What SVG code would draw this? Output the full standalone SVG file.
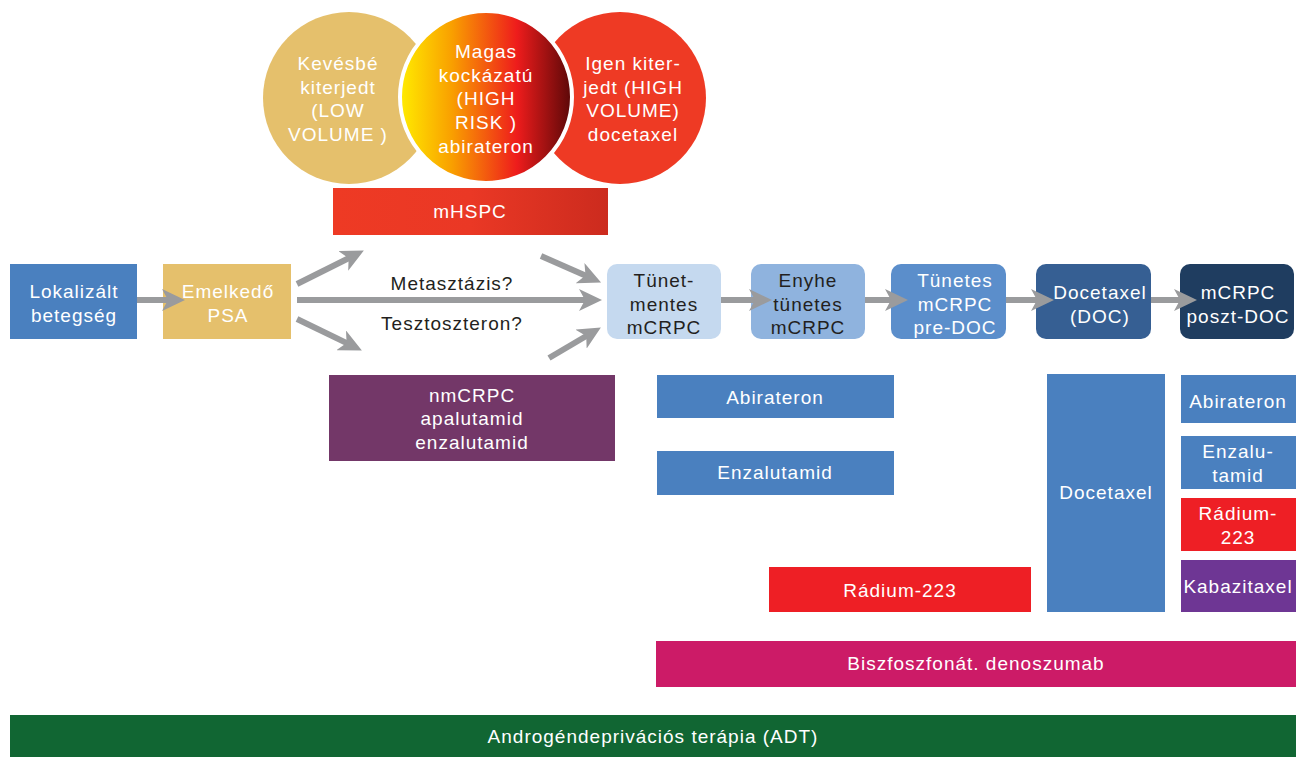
<svg xmlns="http://www.w3.org/2000/svg" width="1296" height="757" viewBox="0 0 1296 757">
<defs>
<linearGradient id="gRisk" x1="0" y1="0" x2="1" y2="0">
<stop offset="0" stop-color="#ffec00"/>
<stop offset="0.3" stop-color="#f9a000"/>
<stop offset="0.68" stop-color="#ee1c1c"/>
<stop offset="1" stop-color="#5a0808"/>
</linearGradient>
<linearGradient id="gHspc" x1="0" y1="0" x2="1" y2="0">
<stop offset="0" stop-color="#ee3a24"/>
<stop offset="0.5" stop-color="#ea3825"/>
<stop offset="1" stop-color="#cc2b1e"/>
</linearGradient>
<marker id="ah" markerUnits="userSpaceOnUse" markerWidth="24" markerHeight="22" viewBox="0 0 24 22" refX="12" refY="11" orient="auto">
<path d="M0,0 L23,11 L0,22 L6,11 Z" fill="#9a9b9d"/>
</marker>
<style>
text{font-family:"Liberation Sans",Arial,sans-serif;font-size:19px;letter-spacing:1px;text-anchor:middle;fill:#ffffff}
.dk{fill:#231f20}
.cn{stroke:#9a9b9d;stroke-width:6;fill:none;marker-end:url(#ah)}
</style>
</defs>

<g id="circle-low">
<circle cx="349" cy="98" r="86" fill="#e5c06c"/>
<text x="338" y="70">Kevésbé</text>
<text x="338" y="94">kiterjedt</text>
<text x="338" y="117">(LOW</text>
<text x="338" y="141">VOLUME )</text>
</g>
<g id="circle-high-volume">
<circle cx="620" cy="98" r="86" fill="#ee3a24"/>
<text x="633" y="70">Igen kiter-</text>
<text x="633" y="94">jedt (HIGH</text>
<text x="633" y="117">VOLUME)</text>
<text x="633" y="141">docetaxel</text>
</g>
<g id="circle-high-risk">
<circle cx="486" cy="97" r="86" fill="url(#gRisk)" stroke="#ffffff" stroke-width="4"/>
<text x="486" y="58">Magas</text>
<text x="486" y="82">kockázatú</text>
<text x="486" y="105">(HIGH</text>
<text x="486" y="129">RISK )</text>
<text x="486" y="153">abirateron</text>
</g>
<g id="mhspc">
<rect x="333" y="188" width="275" height="47" fill="url(#gHspc)"/>
<text x="470" y="218">mHSPC</text>
</g>

<g id="lokalizalt">
<rect x="10" y="264" width="127" height="75" fill="#4a80bf"/>
<text x="74" y="298">Lokalizált</text>
<text x="74" y="322">betegség</text>
</g>
<g id="emelkedo">
<rect x="163" y="264" width="128" height="75" fill="#e5c06c"/>
<text x="228" y="298">Emelkedő</text>
<text x="228" y="322">PSA</text>
</g>
<g id="nmcrpc">
<rect x="329" y="375" width="286" height="86" fill="#733768"/>
<text x="472" y="402">nmCRPC</text>
<text x="472" y="425">apalutamid</text>
<text x="472" y="449">enzalutamid</text>
</g>

<g id="tunetmentes">
<rect x="607" y="264" width="114" height="75" rx="10" fill="#c5d9ef"/>
<text class="dk" x="664" y="287">Tünet-</text>
<text class="dk" x="664" y="311">mentes</text>
<text class="dk" x="664" y="334">mCRPC</text>
</g>
<g id="enyhe">
<rect x="751" y="264" width="114" height="75" rx="10" fill="#8fb3de"/>
<text class="dk" x="808" y="287">Enyhe</text>
<text class="dk" x="808" y="311">tünetes</text>
<text class="dk" x="808" y="334">mCRPC</text>
</g>
<g id="tunetes">
<rect x="891" y="264" width="115" height="75" rx="10" fill="#5b8ecb"/>
<text x="955" y="287">Tünetes</text>
<text x="955" y="311">mCRPC</text>
<text x="955" y="334">pre-DOC</text>
</g>
<g id="docetaxel-doc">
<rect x="1036" y="264" width="115" height="75" rx="10" fill="#365f93"/>
<text x="1100" y="299">Docetaxel</text>
<text x="1100" y="323">(DOC)</text>
</g>
<g id="poszt-doc">
<rect x="1180" y="264" width="114" height="75" rx="10" fill="#1f3d60"/>
<text x="1238" y="299">mCRPC</text>
<text x="1238" y="323">poszt-DOC</text>
</g>

<g id="abirateron-1">
<rect x="657" y="375" width="237" height="43" fill="#4a80bf"/>
<text x="775" y="404">Abirateron</text>
</g>
<g id="enzalutamid-1">
<rect x="657" y="451" width="237" height="44" fill="#4a80bf"/>
<text x="775" y="479">Enzalutamid</text>
</g>
<g id="radium-1">
<rect x="769" y="567" width="262" height="45" fill="#ee1f25"/>
<text x="900" y="597">Rádium-223</text>
</g>
<g id="docetaxel-tall">
<rect x="1047" y="374" width="118" height="238" fill="#4a80bf"/>
<text x="1106" y="499">Docetaxel</text>
</g>
<g id="abirateron-2">
<rect x="1181" y="375" width="115" height="48" fill="#4a80bf"/>
<text x="1238" y="408">Abirateron</text>
</g>
<g id="enzalutamid-2">
<rect x="1181" y="436" width="115" height="53" fill="#4a80bf"/>
<text x="1238" y="458">Enzalu-</text>
<text x="1238" y="482">tamid</text>
</g>
<g id="radium-2">
<rect x="1181" y="498" width="115" height="53" fill="#ee1f25"/>
<text x="1238" y="520">Rádium-</text>
<text x="1238" y="544">223</text>
</g>
<g id="kabazitaxel">
<rect x="1181" y="560" width="115" height="52" fill="#6e3694"/>
<text x="1238" y="593">Kabazitaxel</text>
</g>
<g id="biszfoszfonat">
<rect x="656" y="641" width="640" height="46" fill="#cc1b67"/>
<text x="976" y="670">Biszfoszfonát. denoszumab</text>
</g>
<g id="adt">
<rect x="10" y="715" width="1286" height="42" fill="#116633"/>
<text x="653" y="743">Androgéndeprivációs terápia (ADT)</text>
</g>

<g id="connectors">
<line class="cn" x1="137" y1="300" x2="174" y2="300"/>
<line class="cn" x1="297" y1="284" x2="354" y2="255.5"/>
<line class="cn" x1="297" y1="300" x2="591" y2="300"/>
<line class="cn" x1="297" y1="319" x2="352" y2="345.6"/>
<line class="cn" x1="541" y1="256" x2="591" y2="278"/>
<line class="cn" x1="549" y1="358" x2="591.4" y2="333"/>
<line class="cn" x1="721" y1="300" x2="761" y2="300"/>
<line class="cn" x1="865" y1="300" x2="897" y2="300"/>
<line class="cn" x1="1006" y1="300" x2="1043" y2="300"/>
<line class="cn" x1="1151" y1="300" x2="1186" y2="300"/>
<text class="dk" x="452" y="290">Metasztázis?</text>
<text class="dk" x="452" y="330">Tesztoszteron?</text>
</g>
</svg>
